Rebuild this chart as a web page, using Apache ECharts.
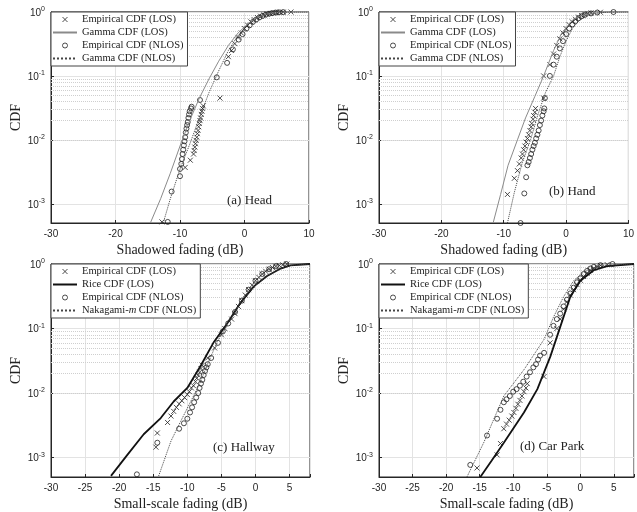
<!DOCTYPE html>
<html>
<head>
<meta charset="utf-8">
<script src="https://cdn.jsdelivr.net/npm/echarts@6/dist/echarts.min.js"></script>
<style>
html, body { margin: 0; padding: 0; background: #fff; }
#main { width: 637px; height: 512px; }
</style>
</head>
<body>
<div id="main"></div>
<script>
// values: x = fading (dB), y = CDF

// (a) Head
var headLosX = [-12.8, -9.2, -8.4, -7.9, -7.8, -7.7, -7.6, -7.5, -7.4, -7.3, -7.2, -7.1, -7.0, -6.9, -6.8, -6.7, -6.6, -6.5, -6.4, -3.8, -2.5, -2, -1.5, -1, -0.5, 0, 0.5, 1, 1.5, 2, 2.5, 3, 3.5, 4, 4.5, 5, 5.5, 6, 7.2];
var headLosY = [5.2e-4, 0.0037, 0.0048, 0.006, 0.0068, 0.0077, 0.0087, 0.0098, 0.011, 0.0125, 0.014, 0.016, 0.018, 0.02, 0.022, 0.025, 0.028, 0.031, 0.034, 0.045, 0.2, 0.25, 0.32, 0.4, 0.47, 0.55, 0.62, 0.7, 0.76, 0.82, 0.86, 0.9, 0.93, 0.95, 0.97, 0.98, 0.99, 0.995, 1.0];
var headNlosX = [-11.9, -11.3, -10.0, -10.0, -9.8, -9.7, -9.6, -9.5, -9.4, -9.3, -9.2, -9.1, -9.0, -8.9, -8.8, -8.7, -8.6, -8.5, -8.3, -8.2, -6.9, -4.3, -2.7, -1.8, -0.9, -0.3, 0.3, 0.8, 1.3, 1.8, 2.3, 2.8, 3.3, 3.8, 4.3, 4.8, 5.3, 6.0];
var headNlosY = [5.2e-4, 0.00155, 0.0027, 0.0035, 0.0042, 0.005, 0.006, 0.007, 0.0082, 0.0095, 0.011, 0.013, 0.015, 0.017, 0.019, 0.022, 0.025, 0.028, 0.031, 0.033, 0.042, 0.095, 0.16, 0.26, 0.37, 0.45, 0.55, 0.62, 0.7, 0.76, 0.82, 0.87, 0.91, 0.94, 0.96, 0.98, 0.99, 0.995];
var headFitLosX = [-14.6, -13, -11.5, -10, -8.5, -7, -5.5, -4, -2.5, -1, 0.5, 2, 3.5, 5, 7, 10];
var headFitLosY = [5e-4, 0.0012, 0.003, 0.008, 0.02, 0.045, 0.09, 0.17, 0.3, 0.47, 0.65, 0.82, 0.93, 0.98, 0.998, 1.0];
var headFitNlosX = [-12.6, -11.5, -10, -8.5, -7, -5.5, -4, -2.5, -1, 0.5, 2, 3.5, 5, 7, 10];
var headFitNlosY = [5e-4, 0.0012, 0.0035, 0.0085, 0.022, 0.055, 0.12, 0.25, 0.43, 0.63, 0.8, 0.92, 0.98, 0.998, 1.0];

// (b) Hand
var handLosX = [-9.4, -8.3, -7.8, -7.5, -7.2, -7.0, -6.8, -6.6, -6.4, -6.2, -6.0, -5.8, -5.6, -5.5, -5.3, -5.2, -5.0, -4.9, -3.6, -3.6, -2.6, -2, -1.5, -1, -0.5, 0, 0.5, 1, 1.5, 2, 2.5, 3, 3.5, 4, 5.5];
var handLosY = [0.0014, 0.0025, 0.0033, 0.0042, 0.0052, 0.006, 0.007, 0.008, 0.0092, 0.0105, 0.012, 0.014, 0.016, 0.018, 0.021, 0.024, 0.027, 0.031, 0.045, 0.1, 0.15, 0.22, 0.3, 0.38, 0.47, 0.55, 0.63, 0.7, 0.77, 0.83, 0.88, 0.92, 0.95, 0.97, 0.99];
var handNlosX = [-7.3, -6.7, -6.4, -6.2, -6.0, -5.8, -5.6, -5.4, -5.2, -5.0, -4.8, -4.6, -4.4, -4.2, -4.0, -3.8, -3.6, -3.5, -3.4, -2.6, -2.0, -1.5, -1, -0.5, 0, 0.5, 1, 1.5, 2, 2.5, 3, 4, 5, 7.6];
var handNlosY = [5e-4, 0.00145, 0.0026, 0.004, 0.0045, 0.0052, 0.006, 0.007, 0.008, 0.009, 0.0105, 0.012, 0.014, 0.017, 0.02, 0.024, 0.028, 0.031, 0.045, 0.1, 0.15, 0.2, 0.27, 0.35, 0.45, 0.55, 0.64, 0.72, 0.8, 0.86, 0.9, 0.95, 0.98, 1.0];
var handFitLosX = [-11.7, -10.5, -9.3, -7.8, -6.5, -5, -3.6, -2.0, -0.7, 1.1, 2.5, 3.7, 5, 6.5, 8, 10];
var handFitLosY = [5e-4, 0.0014, 0.004, 0.01, 0.022, 0.048, 0.1, 0.25, 0.47, 0.76, 0.88, 0.93, 0.97, 0.99, 0.998, 1.0];
var handFitNlosX = [-9.4, -8.3, -7, -5.7, -4.5, -3.3, -2.0, -1, 0, 1, 2, 3, 4, 5.5, 7, 10];
var handFitNlosY = [5e-4, 0.0015, 0.0045, 0.01, 0.025, 0.055, 0.1, 0.2, 0.35, 0.55, 0.72, 0.85, 0.93, 0.98, 0.995, 1.0];

// (c) Hallway
var hallLosX = [-14.6, -14.4, -12.9, -12.4, -12.0, -11.6, -11.2, -10.8, -10.4, -10.0, -9.7, -9.4, -9.1, -8.8, -8.6, -8.4, -8.2, -8.0, -7.8, -7, -6, -5, -4.5, -3.5, -3, -2.5, -2, -1.5, -1, -0.5, 0, 0.5, 1, 1.5, 2, 2.5, 3, 3.5, 4, 4.6];
var hallLosY = [0.00145, 0.0024, 0.0035, 0.0044, 0.0052, 0.006, 0.0068, 0.0076, 0.0085, 0.0095, 0.0105, 0.012, 0.013, 0.015, 0.017, 0.019, 0.021, 0.024, 0.027, 0.035, 0.05, 0.08, 0.1, 0.14, 0.17, 0.22, 0.27, 0.33, 0.4, 0.47, 0.55, 0.62, 0.7, 0.77, 0.83, 0.88, 0.92, 0.95, 0.97, 1.0];
var hallNlosX = [-17.4, -14.4, -11.2, -10.5, -10, -9.6, -9.3, -9.0, -8.7, -8.4, -8.2, -8.0, -7.8, -7.6, -7.4, -7.2, -7.0, -6.5, -5.5, -4.8, -4, -3, -2, -1, 0, 1, 2, 3, 4.5];
var hallNlosY = [5.5e-4, 0.0017, 0.0028, 0.0034, 0.004, 0.005, 0.006, 0.0072, 0.0085, 0.01, 0.012, 0.014, 0.016, 0.019, 0.022, 0.025, 0.028, 0.035, 0.06, 0.09, 0.12, 0.18, 0.27, 0.4, 0.55, 0.7, 0.83, 0.92, 1.0];
var hallFitLosX = [-21.2, -18.8, -16.4, -13.9, -12, -10, -8, -6.1, -4.15, -2.2, -0.24, 1.7, 3.7, 5.1, 8];
var hallFitLosY = [5.2e-4, 0.0011, 0.0023, 0.0041, 0.0074, 0.012, 0.027, 0.062, 0.12, 0.25, 0.45, 0.65, 0.85, 0.95, 1.0];
var hallFitNlosX = [-14.2, -12.4, -11.0, -9.5, -8.05, -7.1, -5.6, -4.15, -2.2, -0.24, 1.7, 3.7, 5.1, 8];
var hallFitNlosY = [5.2e-4, 0.0018, 0.0036, 0.0074, 0.015, 0.027, 0.062, 0.12, 0.25, 0.45, 0.65, 0.85, 0.95, 1.0];

// (d) Car Park
var parkLosX = [-15.4, -12.4, -11.9, -11.4, -11, -10.6, -10.2, -9.9, -9.6, -9.3, -9.0, -8.7, -8.4, -8.1, -7.9, -5.4, -4.5, -3.5, -3, -2.5, -2, -1.5, -1, -0.5, 0, 0.5, 1, 1.5, 2, 2.5, 3, 4];
var parkLosY = [6.9e-4, 0.0011, 0.00165, 0.0028, 0.0033, 0.0038, 0.0044, 0.005, 0.0058, 0.0067, 0.0077, 0.009, 0.0105, 0.012, 0.014, 0.018, 0.06, 0.1, 0.14, 0.2, 0.26, 0.33, 0.4, 0.48, 0.56, 0.64, 0.72, 0.8, 0.86, 0.91, 0.95, 0.98];
var parkNlosX = [-16.4, -13.9, -12.4, -11.9, -11.4, -11, -10.5, -10, -9.5, -9, -8.5, -8, -7.5, -7, -6.6, -6.3, -6, -5.4, -4.5, -4, -3.5, -3, -2.5, -2, -1.5, -1, -0.5, 0, 0.5, 1, 1.5, 2, 3, 4.8];
var parkNlosY = [7.7e-4, 0.0022, 0.004, 0.0055, 0.0072, 0.008, 0.009, 0.0105, 0.0115, 0.013, 0.015, 0.018, 0.021, 0.025, 0.028, 0.033, 0.038, 0.042, 0.08, 0.11, 0.14, 0.17, 0.22, 0.28, 0.35, 0.43, 0.52, 0.6, 0.7, 0.78, 0.85, 0.9, 0.96, 1.0];
var parkFitLosX = [-14.9, -13.2, -11.4, -8.4, -6.4, -4.46, -2.98, -1.49, 0, 2, 4, 8];
var parkFitLosY = [5e-4, 9e-4, 0.0017, 0.005, 0.0115, 0.037, 0.107, 0.31, 0.55, 0.8, 0.93, 1.0];
var parkFitNlosX = [-16.9, -14.4, -11.4, -8.4, -5.4, -4.0, -2.5, -1.0, 0.5, 3, 8];
var parkFitNlosY = [5e-4, 0.0017, 0.009, 0.023, 0.068, 0.15, 0.31, 0.55, 0.75, 0.95, 1.0];

var yMin = 5e-4;

function pairs(xs, ys) {
  var out = [];
  for (var i = 0; i < xs.length; i++) {
    out.push([xs[i], ys[i]]);
  }
  return out;
}

// dotted minor grid lines of the log axis (2..9 x 10^k)
var minorLines = [];
for (var k = -4; k < 0; k++) {
  for (var m = 2; m <= 9; m++) {
    var v = Number((m * Math.pow(10, k)).toPrecision(3));
    if (v > yMin && v < 1) minorLines.push({ yAxis: v });
  }
}

var panels = [
  { left: 51, top: 12, width: 258, height: 211, xmax: 10, xint: 10, xname: 'Shadowed fading (dB)',
    fitLos: 'Gamma CDF (LOS)', fitNlos: 'Gamma CDF (NLOS)', tag: '(a) Head', tagX: 227, tagY: 202,
    los: pairs(headLosX, headLosY), nlos: pairs(headNlosX, headNlosY),
    fl: pairs(headFitLosX, headFitLosY), fn: pairs(headFitNlosX, headFitNlosY) },
  { left: 379, top: 12, width: 255, height: 211, xmax: 10, xint: 10, xname: 'Shadowed fading (dB)',
    fitLos: 'Gamma CDF (LOS)', fitNlos: 'Gamma CDF (NLOS)', tag: '(b) Hand', tagX: 549, tagY: 193,
    los: pairs(handLosX, handLosY), nlos: pairs(handNlosX, handNlosY),
    fl: pairs(handFitLosX, handFitLosY), fn: pairs(handFitNlosX, handFitNlosY) },
  { left: 51, top: 264, width: 259, height: 214, xmax: 8, xint: 5, xname: 'Small-scale fading (dB)',
    fitLos: 'Rice CDF (LOS)', fitNlos: 'Nakagami-m CDF (NLOS)', tag: '(c) Hallway', tagX: 213, tagY: 449,
    los: pairs(hallLosX, hallLosY), nlos: pairs(hallNlosX, hallNlosY),
    fl: pairs(hallFitLosX, hallFitLosY), fn: pairs(hallFitNlosX, hallFitNlosY) },
  { left: 379, top: 264, width: 255, height: 213, xmax: 8, xint: 5, xname: 'Small-scale fading (dB)',
    fitLos: 'Rice CDF (LOS)', fitNlos: 'Nakagami-m CDF (NLOS)', tag: '(d) Car Park', tagX: 520, tagY: 448,
    los: pairs(parkLosX, parkLosY), nlos: pairs(parkNlosX, parkNlosY),
    fl: pairs(parkFitLosX, parkFitLosY), fn: pairs(parkFitNlosX, parkFitNlosY) }
];

var axisColor = '#262626';
var serif = '"Liberation Serif", "DejaVu Serif", serif';
var sans = '"Liberation Sans", Arial, sans-serif';

function powLabel(v) {
  var e = Math.log(v) / Math.LN10;
  var r = Math.round(e);
  if (Math.abs(e - r) > 1e-6) return '';
  return '{b|10}{s|' + r + '}';
}

var markerStyle = { color: 'transparent', borderColor: '#222', borderWidth: 1 };
var noMarker = { color: 'transparent', borderColor: 'transparent', borderWidth: 0, opacity: 0 };

var grids = [], xAxes = [], yAxes = [], series = [], legends = [], graphics = [];

panels.forEach(function (p, i) {
  var rice = p.xint === 5;
  grids.push({ left: p.left, top: p.top, width: p.width, height: p.height,
    show: true, borderColor: axisColor, borderWidth: 1, backgroundColor: '#fff' });

  xAxes.push({
    gridIndex: i, type: 'value', min: -30, max: p.xmax, interval: p.xint,
    axisLine: { show: true, onZero: false, lineStyle: { color: axisColor } },
    axisTick: { inside: true, length: 3, lineStyle: { color: axisColor } },
    axisLabel: { color: axisColor, fontFamily: sans, fontSize: 10, margin: 6,
      formatter: function (v) { return v % p.xint === 0 ? String(v) : ''; } },
    splitLine: { show: true, lineStyle: { color: '#e3e3e3', width: 1 } },
    name: p.xname, nameLocation: 'middle', nameGap: 20,
    nameTextStyle: { fontFamily: serif, fontSize: 14, color: '#222' }
  });

  yAxes.push({
    gridIndex: i, type: 'log', logBase: 10, min: yMin, max: 1,
    axisLine: { show: true, onZero: false, lineStyle: { color: axisColor } },
    axisTick: { inside: true, length: 3, lineStyle: { color: axisColor } },
    axisLabel: { color: axisColor, margin: 6, formatter: powLabel,
      rich: {
        b: { fontFamily: sans, fontSize: 10, color: axisColor, verticalAlign: 'bottom' },
        s: { fontFamily: sans, fontSize: 7, color: axisColor, verticalAlign: 'bottom', padding: [0, 0, 5, 0] }
      } },
    splitLine: { show: true, lineStyle: { color: '#e3e3e3', width: 1 } },
    name: 'CDF', nameLocation: 'middle', nameGap: 28,
    nameTextStyle: { fontFamily: serif, fontSize: 14, color: '#222' }
  });

  series.push({
    name: 'Empirical CDF (LOS)', type: 'scatter', xAxisIndex: i, yAxisIndex: i,
    symbol: 'path://M0,0L10,10M10,0L0,10', symbolSize: 5, symbolKeepAspect: true,
    itemStyle: markerStyle, data: p.los, z: 3, animation: false
  });
  series.push({
    name: p.fitLos, type: 'line', xAxisIndex: i, yAxisIndex: i, symbol: 'none',
    lineStyle: rice ? { color: '#111', width: 1.8 } : { color: '#8a8a8a', width: 1 },
    data: p.fl, z: 4, animation: false
  });
  series.push({
    name: 'Empirical CDF (NLOS)', type: 'scatter', xAxisIndex: i, yAxisIndex: i,
    symbol: 'circle', symbolSize: 5,
    itemStyle: markerStyle, data: p.nlos, z: 3, animation: false
  });
  series.push({
    name: p.fitNlos, type: 'line', xAxisIndex: i, yAxisIndex: i, symbol: 'none',
    lineStyle: { color: '#444', width: 1, type: 'dotted' },
    data: p.fn, z: 4, animation: false,
    markLine: { silent: true, symbol: ['none', 'none'], label: { show: false }, animation: false,
      lineStyle: { type: 'dotted', color: '#cfcfcf', width: 1 }, data: minorLines, z: 1 }
  });

  legends.push({
    left: p.left, top: p.top, orient: 'vertical', selectedMode: false,
    data: [
      { name: 'Empirical CDF (LOS)', itemStyle: markerStyle },
      { name: p.fitLos, itemStyle: noMarker },
      { name: 'Empirical CDF (NLOS)', itemStyle: markerStyle },
      { name: p.fitNlos, itemStyle: noMarker }
    ],
    itemWidth: 24, itemHeight: 5, itemGap: 2, padding: [2, 4, 2, 1],
    borderColor: '#444', borderWidth: 1, backgroundColor: '#fff',
    textStyle: { fontFamily: serif, fontSize: 10.5, color: '#222',
      rich: { n: { fontFamily: serif, fontSize: 10.5, color: '#222' },
              i: { fontFamily: serif, fontSize: 10.5, fontStyle: 'italic', color: '#222' } } },
    formatter: function (name) {
      if (name.indexOf('Nakagami') === 0) return '{n|Nakagami-}{i|m}{n| CDF (NLOS)}';
      return name;
    }
  });

  graphics.push({ type: 'text', left: p.tagX, top: p.tagY - 8,
    style: { text: p.tag, font: '13px ' + serif, fill: '#222' }, z: 10 });
});

var chart = echarts.init(document.getElementById('main'));
chart.setOption({
  backgroundColor: '#fff',
  animation: false,
  grid: grids,
  xAxis: xAxes,
  yAxis: yAxes,
  legend: legends,
  series: series,
  graphic: graphics
});
</script>
</body>
</html>
